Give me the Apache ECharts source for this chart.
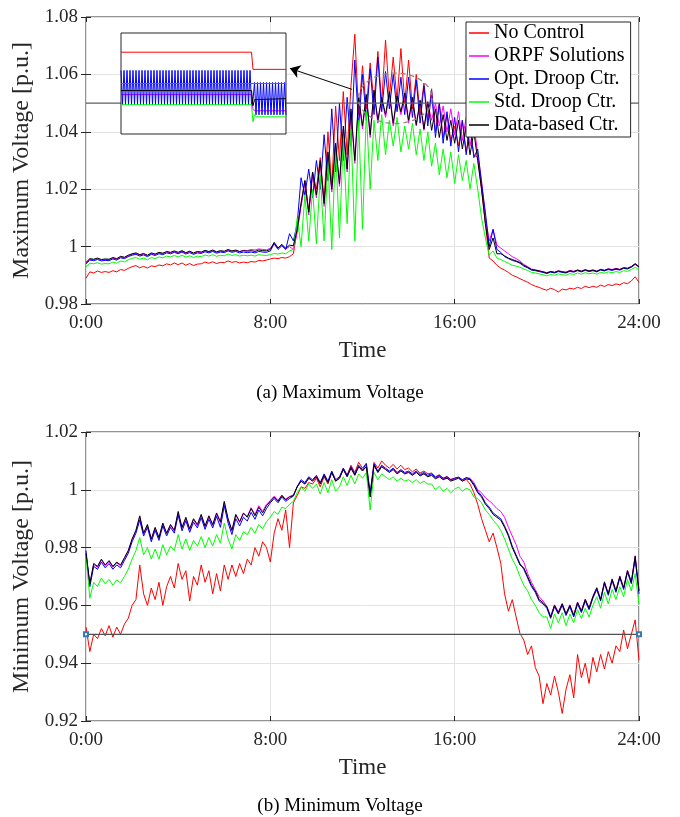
<!DOCTYPE html>
<html>
<head>
<meta charset="utf-8">
<script src="https://cdn.jsdelivr.net/npm/echarts@6/dist/echarts.min.js"></script>
<style>
html, body { margin: 0; background: #fff; }
#main { width: 680px; height: 817px; }
</style>
</head>
<body>
<div id="main"></div>
<script>
// 10-minute samples over one day (145 points, 0:00 .. 24:00)
var hours = Array.from({length: 145}, function (_, i) { return i / 6; });
var names = ['No Control', 'ORPF Solutions', 'Opt. Droop Ctr.', 'Std. Droop Ctr.', 'Data-based Ctr.'];
var colors = ['#ff0000', '#ff00ff', '#0000ff', '#00ff00', '#000000'];

// (a) maximum voltage [p.u.]
var maxNoCtrl = [
  0.9890, 0.9912, 0.9908, 0.9915, 0.9910, 0.9913,
  0.9910, 0.9916, 0.9912, 0.9920, 0.9917, 0.9924,
  0.9930, 0.9934, 0.9926, 0.9931, 0.9925, 0.9933,
  0.9930, 0.9936, 0.9933, 0.9940, 0.9936, 0.9943,
  0.9937, 0.9943, 0.9935, 0.9941, 0.9934, 0.9939,
  0.9940, 0.9946, 0.9942, 0.9947, 0.9941, 0.9945,
  0.9944, 0.9950, 0.9945, 0.9948, 0.9943, 0.9946,
  0.9944, 0.9948, 0.9946, 0.9952, 0.9950, 0.9953,
  0.9957, 0.9960, 0.9958, 0.9962, 0.9960, 0.9965,
  0.9975, 1.0060, 1.0150, 1.0230, 1.0120, 1.0260,
  1.0200, 1.0310, 1.0160, 1.0400, 1.0210, 1.0490,
  1.0300, 1.0540, 1.0320, 1.0560, 1.0740, 1.0460,
  1.0630, 1.0480, 1.0640, 1.0500, 1.0680, 1.0500,
  1.0720, 1.0520, 1.0660, 1.0510, 1.0690, 1.0500,
  1.0650, 1.0480, 1.0600, 1.0460, 1.0570, 1.0440,
  1.0550, 1.0400, 1.0500, 1.0380, 1.0460, 1.0370,
  1.0420, 1.0350, 1.0440, 1.0330, 1.0410, 1.0320,
  1.0310, 1.0200, 1.0080, 0.9960, 0.9950, 0.9935,
  0.9925, 0.9918, 0.9910, 0.9900, 0.9895, 0.9888,
  0.9882, 0.9876, 0.9868, 0.9862, 0.9858, 0.9852,
  0.9848, 0.9855, 0.9850, 0.9842, 0.9852, 0.9849,
  0.9855, 0.9852, 0.9858, 0.9854, 0.9862, 0.9857,
  0.9862, 0.9858, 0.9866, 0.9861, 0.9868, 0.9864,
  0.9870, 0.9867, 0.9874, 0.9871, 0.9880, 0.9895,
  0.9875
];
var maxOrpf = [
  0.9943, 0.9956, 0.9954, 0.9958, 0.9953, 0.9955,
  0.9954, 0.9960, 0.9956, 0.9964, 0.9961, 0.9968,
  0.9973, 0.9976, 0.9970, 0.9974, 0.9968, 0.9976,
  0.9972, 0.9978, 0.9975, 0.9981, 0.9978, 0.9983,
  0.9978, 0.9984, 0.9977, 0.9982, 0.9976, 0.9981,
  0.9979, 0.9985, 0.9981, 0.9986, 0.9980, 0.9984,
  0.9982, 0.9988, 0.9983, 0.9987, 0.9982, 0.9987,
  0.9986, 0.9990, 0.9988, 0.9992, 0.9990, 0.9989,
  0.9994, 1.0012, 0.9995, 1.0005, 0.9992, 1.0000,
  0.9990, 1.0050, 1.0140, 1.0220, 1.0110, 1.0250,
  1.0170, 1.0290, 1.0140, 1.0320, 1.0190, 1.0350,
  1.0210, 1.0410, 1.0260, 1.0470, 1.0290, 1.0510,
  1.0410, 1.0525, 1.0380, 1.0535, 1.0430, 1.0515,
  1.0450, 1.0530, 1.0420, 1.0520, 1.0460, 1.0525,
  1.0430, 1.0515, 1.0420, 1.0505, 1.0405, 1.0500,
  1.0440, 1.0500, 1.0420, 1.0490, 1.0400, 1.0480,
  1.0390, 1.0470, 1.0370, 1.0450, 1.0350, 1.0430,
  1.0320, 1.0230, 1.0100, 1.0020, 1.0060, 1.0005,
  0.9995, 0.9985, 0.9975, 0.9965, 0.9958, 0.9950,
  0.9938, 0.9930, 0.9922, 0.9919, 0.9916, 0.9913,
  0.9909, 0.9914, 0.9911, 0.9916, 0.9913, 0.9911,
  0.9917, 0.9914, 0.9919, 0.9915, 0.9920, 0.9916,
  0.9919, 0.9915, 0.9921, 0.9918, 0.9923, 0.9920,
  0.9924, 0.9921, 0.9927, 0.9925, 0.9931, 0.9941,
  0.9931
];
var maxOptDroop = [
  0.9940, 0.9953, 0.9951, 0.9955, 0.9950, 0.9952,
  0.9951, 0.9957, 0.9953, 0.9961, 0.9958, 0.9965,
  0.9970, 0.9973, 0.9967, 0.9971, 0.9965, 0.9973,
  0.9969, 0.9975, 0.9972, 0.9978, 0.9975, 0.9980,
  0.9975, 0.9981, 0.9974, 0.9979, 0.9973, 0.9978,
  0.9976, 0.9982, 0.9978, 0.9983, 0.9977, 0.9981,
  0.9979, 0.9985, 0.9980, 0.9983, 0.9978, 0.9981,
  0.9979, 0.9981, 0.9978, 0.9983, 0.9981, 0.9980,
  0.9985, 1.0010, 0.9990, 1.0003, 0.9990, 1.0045,
  1.0020, 1.0080, 1.0240, 1.0180, 1.0270, 1.0170,
  1.0300, 1.0200, 1.0390, 1.0230, 1.0480, 1.0260,
  1.0500, 1.0300, 1.0520, 1.0350, 1.0650, 1.0420,
  1.0600, 1.0440, 1.0620, 1.0460, 1.0660, 1.0470,
  1.0610, 1.0480, 1.0600, 1.0470, 1.0590, 1.0460,
  1.0590, 1.0450, 1.0580, 1.0430, 1.0560, 1.0420,
  1.0540, 1.0380, 1.0500, 1.0360, 1.0470, 1.0350,
  1.0450, 1.0330, 1.0440, 1.0320, 1.0420, 1.0310,
  1.0340, 1.0220, 1.0120, 1.0000, 1.0060, 0.9990,
  0.9980, 0.9965, 0.9958, 0.9952, 0.9948, 0.9942,
  0.9932, 0.9926, 0.9918, 0.9916, 0.9913, 0.9910,
  0.9906, 0.9911, 0.9908, 0.9913, 0.9910, 0.9908,
  0.9914, 0.9911, 0.9916, 0.9912, 0.9917, 0.9913,
  0.9916, 0.9912, 0.9918, 0.9915, 0.9920, 0.9917,
  0.9921, 0.9918, 0.9924, 0.9922, 0.9928, 0.9938,
  0.9928
];
var maxStdDroop = [
  0.9930, 0.9942, 0.9940, 0.9944, 0.9939, 0.9941,
  0.9940, 0.9946, 0.9942, 0.9950, 0.9947, 0.9954,
  0.9959, 0.9962, 0.9956, 0.9960, 0.9954, 0.9962,
  0.9958, 0.9964, 0.9961, 0.9967, 0.9964, 0.9969,
  0.9964, 0.9970, 0.9963, 0.9968, 0.9962, 0.9967,
  0.9965, 0.9971, 0.9967, 0.9972, 0.9966, 0.9970,
  0.9968, 0.9974, 0.9969, 0.9972, 0.9967, 0.9970,
  0.9968, 0.9970, 0.9967, 0.9972, 0.9970, 0.9969,
  0.9972, 0.9976, 0.9974, 0.9978, 0.9975, 0.9985,
  0.9990, 1.0100, 1.0000, 1.0180, 1.0020, 1.0200,
  1.0010, 1.0250, 1.0020, 1.0300, 0.9990, 1.0350,
  1.0030, 1.0380, 1.0080, 1.0410, 1.0020, 1.0440,
  1.0060, 1.0470, 1.0200, 1.0440, 1.0300, 1.0460,
  1.0320, 1.0440, 1.0350, 1.0450, 1.0330, 1.0420,
  1.0340, 1.0430, 1.0320, 1.0410, 1.0300, 1.0400,
  1.0280, 1.0360, 1.0250, 1.0340, 1.0240, 1.0330,
  1.0220, 1.0320, 1.0230, 1.0300, 1.0200, 1.0290,
  1.0200, 1.0100, 1.0030, 0.9970, 0.9985, 0.9960,
  0.9955, 0.9948, 0.9942, 0.9935, 0.9932, 0.9928,
  0.9922, 0.9917, 0.9910, 0.9908, 0.9905, 0.9902,
  0.9898, 0.9903, 0.9900, 0.9905, 0.9902, 0.9900,
  0.9906, 0.9903, 0.9908, 0.9904, 0.9909, 0.9905,
  0.9908, 0.9904, 0.9910, 0.9907, 0.9912, 0.9909,
  0.9913, 0.9910, 0.9916, 0.9914, 0.9920, 0.9928,
  0.9918
];
var maxDataBased = [
  0.9945, 0.9958, 0.9956, 0.9960, 0.9955, 0.9957,
  0.9956, 0.9962, 0.9958, 0.9966, 0.9963, 0.9970,
  0.9975, 0.9978, 0.9972, 0.9976, 0.9970, 0.9978,
  0.9974, 0.9980, 0.9977, 0.9983, 0.9980, 0.9985,
  0.9980, 0.9986, 0.9979, 0.9984, 0.9978, 0.9983,
  0.9981, 0.9987, 0.9983, 0.9988, 0.9982, 0.9986,
  0.9984, 0.9990, 0.9985, 0.9988, 0.9983, 0.9986,
  0.9984, 0.9986, 0.9983, 0.9988, 0.9986, 0.9985,
  0.9990, 1.0015, 0.9995, 1.0008, 0.9994, 1.0005,
  1.0003, 1.0060, 1.0150, 1.0230, 1.0120, 1.0260,
  1.0180, 1.0300, 1.0150, 1.0330, 1.0200, 1.0360,
  1.0220, 1.0420, 1.0270, 1.0480, 1.0300, 1.0520,
  1.0420, 1.0530, 1.0390, 1.0545, 1.0440, 1.0520,
  1.0460, 1.0540, 1.0430, 1.0525, 1.0470, 1.0535,
  1.0440, 1.0520, 1.0425, 1.0510, 1.0410, 1.0505,
  1.0405, 1.0480, 1.0380, 1.0460, 1.0370, 1.0440,
  1.0360, 1.0440, 1.0340, 1.0420, 1.0320, 1.0400,
  1.0300, 1.0200, 1.0080, 0.9990, 1.0030, 0.9975,
  0.9975, 0.9968, 0.9960, 0.9955, 0.9950, 0.9945,
  0.9935, 0.9928, 0.9920, 0.9918, 0.9915, 0.9912,
  0.9908, 0.9913, 0.9910, 0.9915, 0.9912, 0.9910,
  0.9916, 0.9913, 0.9918, 0.9914, 0.9919, 0.9915,
  0.9918, 0.9914, 0.9920, 0.9917, 0.9922, 0.9919,
  0.9923, 0.9920, 0.9926, 0.9924, 0.9930, 0.9940,
  0.9930
];

// (b) minimum voltage [p.u.]
var minNoCtrl = [
  0.9525, 0.9440, 0.9500, 0.9485, 0.9520, 0.9495,
  0.9530, 0.9490, 0.9525, 0.9500, 0.9535, 0.9555,
  0.9600, 0.9620, 0.9740, 0.9640, 0.9600, 0.9660,
  0.9620, 0.9680, 0.9600, 0.9665, 0.9700, 0.9660,
  0.9745, 0.9690, 0.9720, 0.9615, 0.9700, 0.9670,
  0.9740, 0.9680, 0.9720, 0.9640, 0.9710, 0.9650,
  0.9740, 0.9690, 0.9740, 0.9700, 0.9745, 0.9710,
  0.9760, 0.9740, 0.9800, 0.9770, 0.9820, 0.9800,
  0.9750, 0.9850, 0.9900, 0.9860, 0.9930, 0.9800,
  0.9955, 0.9980, 1.0010, 1.0005, 1.0025, 1.0020,
  1.0040, 1.0010, 1.0045, 1.0020, 1.0060, 1.0030,
  1.0040, 1.0075, 1.0050, 1.0085, 1.0060, 1.0095,
  1.0075, 1.0092, 0.9985, 1.0095, 1.0075, 1.0100,
  1.0085, 1.0075, 1.0088, 1.0072, 1.0085, 1.0070,
  1.0075, 1.0062, 1.0072, 1.0058, 1.0065, 1.0055,
  1.0058, 1.0045, 1.0052, 1.0040, 1.0046, 1.0036,
  1.0040, 1.0042, 1.0030, 1.0036, 1.0020, 0.9990,
  0.9950, 0.9900, 0.9860, 0.9820, 0.9850, 0.9800,
  0.9746, 0.9640, 0.9580, 0.9620, 0.9560, 0.9503,
  0.9480, 0.9430, 0.9460, 0.9385, 0.9355, 0.9260,
  0.9330, 0.9290, 0.9355, 0.9300, 0.9226, 0.9310,
  0.9360, 0.9280, 0.9430, 0.9350, 0.9400, 0.9330,
  0.9420, 0.9370, 0.9430, 0.9380, 0.9440, 0.9400,
  0.9460, 0.9440, 0.9515, 0.9450, 0.9500, 0.9550,
  0.9410
];
var minOrpf = [
  0.9775, 0.9672, 0.9742, 0.9732, 0.9757, 0.9737,
  0.9752, 0.9732, 0.9747, 0.9737, 0.9762, 0.9787,
  0.9827, 0.9857, 0.9905, 0.9847, 0.9877, 0.9827,
  0.9867, 0.9832, 0.9882, 0.9847, 0.9877, 0.9857,
  0.9920, 0.9866, 0.9901, 0.9861, 0.9896, 0.9876,
  0.9911, 0.9871, 0.9906, 0.9876, 0.9916, 0.9886,
  0.9955, 0.9896, 0.9857, 0.9912, 0.9887, 0.9917,
  0.9908, 0.9938, 0.9915, 0.9945, 0.9925, 0.9950,
  0.9963, 0.9978, 0.9963, 0.9982, 0.9968, 0.9977,
  0.9982, 1.0010, 1.0030, 1.0020, 1.0040, 1.0030,
  1.0046, 1.0022, 1.0051, 1.0026, 1.0061, 1.0031,
  1.0041, 1.0071, 1.0046, 1.0076, 1.0051, 1.0081,
  1.0066, 1.0082, 0.9978, 1.0086, 1.0061, 1.0081,
  1.0071, 1.0062, 1.0072, 1.0057, 1.0067, 1.0057,
  1.0062, 1.0052, 1.0062, 1.0050, 1.0057, 1.0047,
  1.0052, 1.0040, 1.0047, 1.0037, 1.0043, 1.0033,
  1.0038, 1.0043, 1.0034, 1.0042, 1.0040, 1.0025,
  1.0000, 0.9990, 0.9972, 0.9962, 0.9950, 0.9935,
  0.9925, 0.9905, 0.9870, 0.9840, 0.9810, 0.9770,
  0.9750, 0.9710, 0.9680, 0.9655, 0.9630, 0.9615,
  0.9598, 0.9562, 0.9602, 0.9577, 0.9607, 0.9572,
  0.9602, 0.9567, 0.9612, 0.9582, 0.9622, 0.9592,
  0.9632, 0.9662, 0.9622, 0.9682, 0.9642, 0.9692,
  0.9652, 0.9702, 0.9662, 0.9722, 0.9682, 0.9772,
  0.9652
];
var minOptDroop = [
  0.9790, 0.9665, 0.9735, 0.9725, 0.9750, 0.9730,
  0.9745, 0.9725, 0.9740, 0.9730, 0.9755, 0.9780,
  0.9820, 0.9850, 0.9895, 0.9840, 0.9870, 0.9820,
  0.9860, 0.9825, 0.9875, 0.9840, 0.9870, 0.9850,
  0.9912, 0.9858, 0.9893, 0.9853, 0.9888, 0.9868,
  0.9903, 0.9863, 0.9898, 0.9868, 0.9908, 0.9870,
  0.9945, 0.9885, 0.9845, 0.9900, 0.9875, 0.9905,
  0.9892, 0.9922, 0.9898, 0.9930, 0.9910, 0.9935,
  0.9955, 0.9970, 0.9955, 0.9975, 0.9960, 0.9970,
  0.9978, 1.0012, 1.0035, 1.0025, 1.0045, 1.0035,
  1.0050, 1.0025, 1.0055, 1.0030, 1.0065, 1.0035,
  1.0045, 1.0075, 1.0050, 1.0080, 1.0055, 1.0085,
  1.0070, 1.0090, 0.9990, 1.0090, 1.0065, 1.0085,
  1.0075, 1.0065, 1.0075, 1.0060, 1.0070, 1.0060,
  1.0065, 1.0055, 1.0065, 1.0053, 1.0060, 1.0050,
  1.0056, 1.0043, 1.0050, 1.0040, 1.0045, 1.0035,
  1.0040, 1.0044, 1.0035, 1.0042, 1.0038, 1.0020,
  0.9995, 0.9980, 0.9955, 0.9940, 0.9920, 0.9910,
  0.9900, 0.9875, 0.9845, 0.9805, 0.9775, 0.9745,
  0.9725, 0.9695, 0.9665, 0.9645, 0.9615, 0.9605,
  0.9590, 0.9555, 0.9595, 0.9570, 0.9600, 0.9565,
  0.9595, 0.9560, 0.9605, 0.9575, 0.9615, 0.9585,
  0.9625, 0.9655, 0.9615, 0.9675, 0.9635, 0.9685,
  0.9645, 0.9695, 0.9655, 0.9715, 0.9675, 0.9760,
  0.9640
];
var minStdDroop = [
  0.9770, 0.9625, 0.9680, 0.9665, 0.9695, 0.9675,
  0.9690, 0.9670, 0.9688, 0.9678, 0.9700, 0.9725,
  0.9760, 0.9790, 0.9835, 0.9775, 0.9800, 0.9760,
  0.9795, 0.9760, 0.9810, 0.9775, 0.9805, 0.9790,
  0.9845, 0.9795, 0.9830, 0.9790, 0.9825, 0.9805,
  0.9838, 0.9800, 0.9835, 0.9805, 0.9845, 0.9815,
  0.9885, 0.9830, 0.9795, 0.9845, 0.9825, 0.9855,
  0.9845, 0.9870, 0.9850, 0.9880, 0.9865, 0.9890,
  0.9905, 0.9925, 0.9915, 0.9940, 0.9935, 0.9950,
  0.9960, 0.9990, 1.0010, 0.9995, 1.0020, 1.0005,
  1.0020, 0.9985, 1.0025, 0.9990, 1.0035, 0.9995,
  1.0010, 1.0045, 1.0015, 1.0050, 1.0020, 1.0055,
  1.0040, 1.0060, 0.9930, 1.0060, 1.0035, 1.0055,
  1.0045, 1.0035, 1.0045, 1.0030, 1.0040, 1.0030,
  1.0035, 1.0025, 1.0035, 1.0022, 1.0030, 1.0020,
  1.0020, 1.0000, 1.0012, 0.9995, 1.0005, 0.9990,
  1.0002, 1.0010, 0.9995, 1.0005, 1.0000, 0.9975,
  0.9970, 0.9955, 0.9930, 0.9915, 0.9895, 0.9880,
  0.9860, 0.9830, 0.9795, 0.9760, 0.9735, 0.9700,
  0.9670, 0.9650, 0.9620, 0.9600, 0.9575, 0.9560,
  0.9560, 0.9520, 0.9570, 0.9540, 0.9575, 0.9530,
  0.9570, 0.9540, 0.9585, 0.9555, 0.9590, 0.9560,
  0.9600, 0.9630, 0.9590, 0.9645, 0.9605, 0.9655,
  0.9620, 0.9665, 0.9630, 0.9690, 0.9650, 0.9710,
  0.9605
];
var minDataBased = [
  0.9780, 0.9675, 0.9745, 0.9735, 0.9760, 0.9740,
  0.9755, 0.9735, 0.9750, 0.9740, 0.9765, 0.9790,
  0.9830, 0.9860, 0.9910, 0.9850, 0.9880, 0.9830,
  0.9870, 0.9835, 0.9885, 0.9850, 0.9880, 0.9860,
  0.9925, 0.9870, 0.9905, 0.9865, 0.9900, 0.9880,
  0.9915, 0.9875, 0.9910, 0.9880, 0.9920, 0.9890,
  0.9960, 0.9900, 0.9860, 0.9915, 0.9890, 0.9920,
  0.9905, 0.9935, 0.9910, 0.9940, 0.9920, 0.9945,
  0.9960, 0.9975, 0.9960, 0.9980, 0.9965, 0.9975,
  0.9980, 1.0010, 1.0030, 1.0020, 1.0040, 1.0030,
  1.0045, 1.0020, 1.0050, 1.0025, 1.0060, 1.0030,
  1.0040, 1.0070, 1.0045, 1.0075, 1.0050, 1.0080,
  1.0065, 1.0080, 0.9975, 1.0085, 1.0060, 1.0080,
  1.0070, 1.0060, 1.0070, 1.0055, 1.0065, 1.0055,
  1.0060, 1.0050, 1.0060, 1.0048, 1.0055, 1.0045,
  1.0050, 1.0038, 1.0045, 1.0035, 1.0040, 1.0030,
  1.0035, 1.0040, 1.0030, 1.0038, 1.0035, 1.0015,
  0.9990, 0.9975, 0.9950, 0.9935, 0.9915, 0.9905,
  0.9895, 0.9870, 0.9840, 0.9800, 0.9770, 0.9740,
  0.9730, 0.9700, 0.9670, 0.9650, 0.9620, 0.9610,
  0.9595, 0.9560, 0.9600, 0.9575, 0.9605, 0.9570,
  0.9600, 0.9565, 0.9610, 0.9580, 0.9620, 0.9590,
  0.9630, 0.9660, 0.9620, 0.9680, 0.9640, 0.9690,
  0.9650, 0.9700, 0.9660, 0.9720, 0.9680, 0.9770,
  0.9650
];

// zoomed inset of (a): switching of the optimized droop controller
var insetStepX = [0, 87, 88, 89, 90, 110];
var insetNoCtrl = [1.0531, 1.0531, 1.0514, 1.0514, 1.0514, 1.0514];
var insetOrpf = [1.0489, 1.0489, 1.0474, 1.0473, 1.0473, 1.0473];
var insetStdDroop = [1.0479, 1.0479, 1.0462, 1.0469, 1.0467, 1.0467];
var insetDataBased = [1.0493, 1.0493, 1.0478, 1.0484, 1.0485, 1.0485];
var insetOptDroop = [
  1.0513, 1.0479, 1.0513, 1.0479, 1.0513, 1.0479, 1.0513, 1.0479, 1.0513, 1.0479,
  1.0513, 1.0479, 1.0513, 1.0479, 1.0513, 1.0479, 1.0513, 1.0479, 1.0513, 1.0479,
  1.0513, 1.0479, 1.0513, 1.0479, 1.0513, 1.0479, 1.0513, 1.0479, 1.0513, 1.0479,
  1.0513, 1.0479, 1.0513, 1.0479, 1.0513, 1.0479, 1.0513, 1.0479, 1.0513, 1.0479,
  1.0513, 1.0479, 1.0513, 1.0479, 1.0513, 1.0479, 1.0513, 1.0479, 1.0513, 1.0479,
  1.0513, 1.0479, 1.0513, 1.0479, 1.0513, 1.0479, 1.0513, 1.0479, 1.0513, 1.0479,
  1.0513, 1.0479, 1.0513, 1.0479, 1.0513, 1.0479, 1.0513, 1.0479, 1.0513, 1.0479,
  1.0513, 1.0479, 1.0513, 1.0479, 1.0513, 1.0479, 1.0513, 1.0479, 1.0513, 1.0479,
  1.0513, 1.0479, 1.0513, 1.0479, 1.0513, 1.0479, 1.0513, 1.0479, 1.0484,
  1.0501, 1.0469, 1.0501, 1.0469, 1.0501, 1.0469, 1.0501, 1.0469, 1.0501, 1.0469,
  1.0501, 1.0469, 1.0501, 1.0469, 1.0501, 1.0469, 1.0501, 1.0469, 1.0501, 1.0469,
  1.0501, 1.0469
];

var limitMax = 1.05, limitMin = 0.95;
// arrow from the highlighted region to the inset, and the dashed ellipse (data units)
var arrowFrom = [11.54, 1.0548], arrowTo = [8.85, 1.0621];
var ellipseCenter = [13.42, 1.0517], ellipseRadius = [1.6, 0.0088];

var FONT = 'Liberation Serif';
var INK = '#262626';

function pairs(xs, ys) {
  return ys.map(function (v, i) { return [xs[i], v]; });
}
function lineSeries(name, color, xs, ys, axis, extra) {
  var s = {
    name: name, type: 'line', xAxisIndex: axis, yAxisIndex: axis,
    data: pairs(xs, ys), symbol: 'none', showSymbol: false,
    lineStyle: {color: color, width: 1}, itemStyle: {color: color},
    emphasis: {disabled: true}, animation: false
  };
  for (var k in extra) s[k] = extra[k];
  return s;
}
function tickFmt(v) { return String(+v.toFixed(2)); }

function xAxisPair(grid) {
  return [{
    type: 'value', gridIndex: grid, position: 'bottom', min: 0, max: 24, interval: 8,
    axisLine: {show: false},
    axisTick: {show: true, inside: true, length: 5, lineStyle: {color: INK}},
    axisLabel: {formatter: function (v) { return v + ':00'; }, fontFamily: FONT, fontSize: 19, color: INK, margin: 10},
    splitLine: {show: true, lineStyle: {color: '#e3e3e3', width: 1}},
    name: 'Time', nameLocation: 'middle', nameGap: 35,
    nameTextStyle: {fontFamily: FONT, fontSize: 23, color: INK}
  }, {
    type: 'value', gridIndex: grid, position: 'top', min: 0, max: 24, interval: 8,
    axisLine: {show: false}, axisLabel: {show: false}, splitLine: {show: false},
    axisTick: {show: true, inside: true, length: 5, lineStyle: {color: INK}}
  }];
}
function yAxisPair(grid, min, max, name) {
  return [{
    type: 'value', gridIndex: grid, position: 'left', min: min, max: max, interval: 0.02,
    axisLine: {show: false},
    axisTick: {show: true, inside: true, length: 5, lineStyle: {color: INK}},
    axisLabel: {formatter: tickFmt, fontFamily: FONT, fontSize: 19, color: INK, margin: 8},
    splitLine: {show: true, lineStyle: {color: '#e3e3e3', width: 1}},
    name: name, nameLocation: 'middle', nameGap: 49, nameRotate: 90,
    nameTextStyle: {fontFamily: FONT, fontSize: 24, color: INK}
  }, {
    type: 'value', gridIndex: grid, position: 'right', min: min, max: max, interval: 0.02,
    axisLine: {show: false}, axisLabel: {show: false}, splitLine: {show: false},
    axisTick: {show: true, inside: true, length: 5, lineStyle: {color: INK}}
  }];
}

var xAxes = xAxisPair(0).concat(xAxisPair(1));
xAxes.push({type: 'value', gridIndex: 2, min: 0, max: 110, show: false});
var yAxes = yAxisPair(0, 0.98, 1.08, 'Maximum Voltage [p.u.]').concat(yAxisPair(1, 0.92, 1.02, 'Minimum Voltage [p.u.]'));
yAxes.push({type: 'value', gridIndex: 2, min: 1.045, max: 1.055, show: false});

var maxSets = [maxNoCtrl, maxOrpf, maxOptDroop, maxStdDroop, maxDataBased];
var minSets = [minNoCtrl, minOrpf, minOptDroop, minStdDroop, minDataBased];
var insetSets = [insetNoCtrl, insetOrpf, null, insetStdDroop, insetDataBased];

var series = [];
// (a) uses axes 0 (bottom x) / 0 (left y), (b) uses axes 2 / 2
maxSets.forEach(function (vals, k) {
  series.push(lineSeries(names[k], colors[k], hours, vals, 0));
});
series.push(lineSeries('limit-a', '#5e5e5e', [0, 24], [limitMax, limitMax], 0, {
  lineStyle: {color: '#5e5e5e', width: 1.2},
  markLine: {
    silent: true, symbol: ['none', 'arrow'], symbolSize: 10, animation: false,
    label: {show: false}, lineStyle: {color: '#000', width: 1, type: 'solid'},
    data: [[{coord: arrowFrom}, {coord: arrowTo}]]
  }
}));
minSets.forEach(function (vals, k) {
  series.push(lineSeries(names[k], colors[k], hours, vals, 2));
});
series.push(lineSeries('limit-b', '#4f4f4f', [0, 24], [limitMin, limitMin], 2, {
  symbol: 'emptyRect', showSymbol: true, symbolSize: 4,
  lineStyle: {color: '#4f4f4f', width: 1.2}, itemStyle: {color: '#3b78b3', borderWidth: 1}
}));
// inset (grid 2) on its own layer
var insetIdx = Array.from({length: insetOptDroop.length}, function (_, i) { return i; });
insetSets.forEach(function (vals, k) {
  if (k === 2) {
    series.push(lineSeries('inset-opt', colors[2], insetIdx, insetOptDroop, 4, {zlevel: 1}));
  } else {
    series.push(lineSeries('inset-' + k, colors[k], insetStepX, vals, 4, {zlevel: 1}));
  }
});
series.push(lineSeries('inset-limit', '#6a6a6a', [0, 110], [limitMax, limitMax], 4, {zlevel: 1, lineStyle: {color: '#6a6a6a', width: 1.2}}));

var chart = echarts.init(document.getElementById('main'));
chart.setOption({
  animation: false,
  backgroundColor: '#fff',
  title: [
    {text: '(a) Maximum Voltage', left: 'center', top: 379,
     textStyle: {fontFamily: FONT, fontWeight: 'normal', fontSize: 19, color: '#000'}},
    {text: '(b) Minimum Voltage', left: 'center', top: 792,
     textStyle: {fontFamily: FONT, fontWeight: 'normal', fontSize: 19, color: '#000'}}
  ],
  grid: [
    {left: 86, top: 17, width: 553, height: 287, show: true, borderColor: INK, borderWidth: 1, backgroundColor: '#fff'},
    {left: 86, top: 432, width: 553, height: 289, show: true, borderColor: INK, borderWidth: 1, backgroundColor: '#fff'},
    {left: 121, top: 33, width: 165, height: 101, show: true, borderColor: INK, borderWidth: 1, backgroundColor: '#fff', zlevel: 1}
  ],
  legend: {
    data: names.map(function (n) { return {name: n, icon: 'rect'}; }),
    orient: 'vertical', left: 466, top: 22,
    itemWidth: 20, itemHeight: 1.5, itemGap: 3,
    padding: [1, 6, 2, 3],
    backgroundColor: '#fff', borderColor: INK, borderWidth: 1,
    textStyle: {fontFamily: FONT, fontSize: 20, lineHeight: 20, color: '#000'},
    selectedMode: false
  },
  xAxis: xAxes,
  yAxis: yAxes,
  series: series
});

// dashed ellipse around the switching region, placed in data units
var c = chart.convertToPixel({gridIndex: 0}, ellipseCenter);
var e = chart.convertToPixel({gridIndex: 0}, [ellipseCenter[0] + ellipseRadius[0], ellipseCenter[1] + ellipseRadius[1]]);
var rx = Math.abs(e[0] - c[0]), ry = Math.abs(e[1] - c[1]);
var pts = [];
for (var a = 0; a < 72; a++) {
  var t = a / 72 * Math.PI * 2;
  pts.push([c[0] + rx * Math.cos(t), c[1] + ry * Math.sin(t)]);
}
chart.setOption({
  graphic: [{
    type: 'polygon', shape: {points: pts}, z: 50, silent: true,
    style: {fill: 'none', stroke: '#8a8a8a', lineWidth: 1.3, lineDash: [5, 4]}
  }]
});
</script>
</body>
</html>
